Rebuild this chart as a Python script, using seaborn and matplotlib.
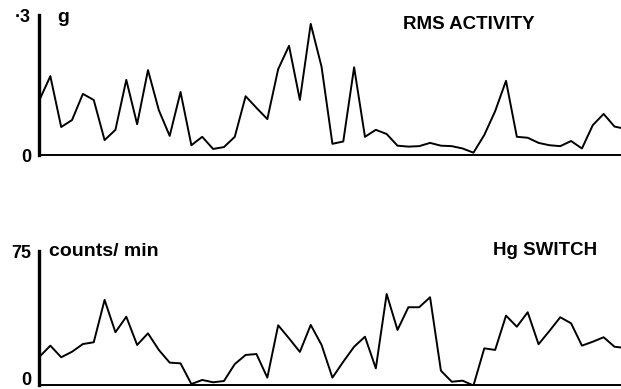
import matplotlib
matplotlib.use("Agg")
import matplotlib.pyplot as plt
import seaborn as sns
import pandas as pd
import numpy as np

# ---- data ----
rms_activity = [0.118, 0.169, 0.060, 0.075, 0.131, 0.118, 0.032, 0.054, 0.161, 0.066,
                0.182, 0.096, 0.041, 0.135, 0.021, 0.039, 0.013, 0.017, 0.039, 0.126,
                0.101, 0.077, 0.184, 0.234, 0.118, 0.281, 0.189, 0.024, 0.029, 0.188,
                0.039, 0.054, 0.045, 0.020, 0.018, 0.019, 0.026, 0.020, 0.019, 0.014,
                0.005, 0.043, 0.094, 0.159, 0.039, 0.037, 0.026, 0.021, 0.019, 0.030,
                0.014, 0.064, 0.088, 0.061, 0.056]
hg_switch = [16.1, 22.3, 15.8, 18.9, 23.2, 24.2, 47.9, 29.8, 38.5, 22.7,
             29.2, 19.9, 12.8, 12.4, 0.8, 3.1, 1.8, 2.5, 12.0, 17.1,
             17.6, 4.4, 33.7, 26.4, 18.8, 33.9, 22.7, 4.4, 13.3, 21.7,
             27.3, 9.6, 51.2, 31.1, 43.8, 43.8, 49.4, 8.3, 2.1, 2.7,
             0.0, 20.8, 19.9, 39.1, 32.9, 41.0, 23.1, 30.5, 38.2, 34.8,
             22.3, 24.5, 27.0, 21.7, 21.0]
sample = list(range(len(rms_activity)))

top_title = "RMS ACTIVITY"
bottom_title = "Hg SWITCH"
top_unit = "g"
bottom_unit = "counts/ min"
top_yticks = [0, 0.1, 0.2, 0.3]
top_yticklabels = ["0", "", "", "·3"]
bottom_yticks = [0, 25, 50, 75]
bottom_yticklabels = ["0", "", "", "75"]

df_top = pd.DataFrame({"sample": sample, "value": rms_activity})
df_bot = pd.DataFrame({"sample": sample, "value": hg_switch})

sns.set_style("white")
plt.rcParams["font.family"] = ["Liberation Sans", "DejaVu Sans"]
plt.rcParams["text.color"] = "black"
plt.rcParams["axes.labelcolor"] = "black"

fig = plt.figure(figsize=(6.21, 3.89), dpi=100)
ax1 = fig.add_axes([0.0636, 0.6015, 0.9364, 0.3599])
ax2 = fig.add_axes([0.0636, 0.009, 0.9364, 0.3445])

panels = [
    (ax1, df_top, (0, 0.3), top_yticks, top_yticklabels, top_title, top_unit,
     (0.625, 0.898), (0.030, 0.95)),
    (ax2, df_bot, (0, 75), bottom_yticks, bottom_yticklabels, bottom_title, bottom_unit,
     (0.780, 0.974), (0.016, 0.966)),
]

for ax, df, ylim, yt, ytl, title, unit, tpos, upos in panels:
    sns.lineplot(data=df, x="sample", y="value", ax=ax, color="black",
                 linewidth=1.4, estimator=None)
    ax.set_xlim(0, 53.6)
    ax.set_ylim(*ylim)
    ax.set_xlabel("")
    ax.set_ylabel("")
    ax.set_xticks([])
    ax.set_yticks(yt)
    ax.set_yticklabels(ytl, fontsize=13, fontweight="bold", color="black")
    ax.set_yticks([yt[-1]], minor=True)
    ax.tick_params(axis="y", which="major", direction="out", length=3, width=1.5,
                   pad=3, colors="black")
    ax.tick_params(axis="y", which="minor", direction="inout", length=8, width=2,
                   colors="black")
    for s in ["top", "right"]:
        ax.spines[s].set_visible(False)
    ax.spines["left"].set_linewidth(2.4)
    ax.spines["left"].set_color("black")
    ax.spines["bottom"].set_linewidth(1.4)
    ax.spines["bottom"].set_color("black")
    ax.patch.set_alpha(0)
    ax.text(tpos[0], tpos[1], title, transform=ax.transAxes, fontsize=13.5,
            fontweight="bold", va="baseline", ha="left", color="black")
    ax.text(upos[0], upos[1], unit, transform=ax.transAxes, fontsize=14,
            fontweight="bold", va="baseline", ha="left", color="black")

# keep the bottom "0" label sitting on the baseline, inside the figure
ax2.get_yticklabels()[0].set_verticalalignment("baseline")
ax1.get_yticklabels()[0].set_verticalalignment("center_baseline")

fig.savefig("out.png", dpi=100)
